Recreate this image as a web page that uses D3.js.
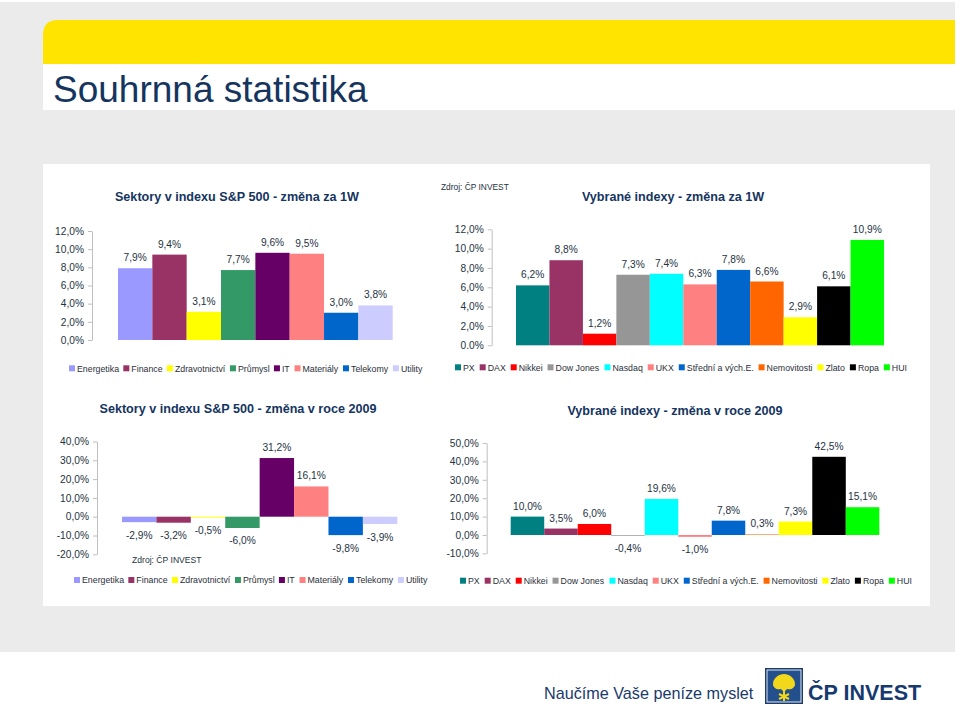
<!DOCTYPE html>
<html>
<head>
<meta charset="utf-8">
<script src="https://cdn.jsdelivr.net/npm/d3@7"></script>
<style>
  html, body { margin: 0; padding: 0; background: #ffffff; }
  svg { display: block; }
  text { font-family: "Liberation Sans", Arial, sans-serif; }
</style>
</head>
<body>
<svg id="page" width="960" height="710"></svg>
<script>
// ---------------- DATA ----------------
const sectors = ["Energetika", "Finance", "Zdravotnictví", "Průmysl", "IT", "Materiály", "Telekomy", "Utility"];
const sectorColors = ["#9999ff", "#993366", "#ffff00", "#339966", "#660066", "#ff8080", "#0066cc", "#ccccff"];
const sectors1W = [7.9, 9.4, 3.1, 7.7, 9.6, 9.5, 3.0, 3.8];
const sectors2009 = [-2.9, -3.2, -0.5, -6.0, 31.2, 16.1, -9.8, -3.9];

const indices = ["PX", "DAX", "Nikkei", "Dow Jones", "Nasdaq", "UKX", "Střední a vých.E.", "Nemovitosti", "Zlato", "Ropa", "HUI"];
const indexColors = ["#008080", "#993366", "#ff0000", "#969696", "#00ffff", "#ff8080", "#0066cc", "#ff6600", "#ffff00", "#000000", "#00ff00"];
const indices1W = [6.2, 8.8, 1.2, 7.3, 7.4, 6.3, 7.8, 6.6, 2.9, 6.1, 10.9];
const indices2009 = [10.0, 3.5, 6.0, -0.4, 19.6, -1.0, 7.8, 0.3, 7.3, 42.5, 15.1];

const ticks1W = [0, 2, 4, 6, 8, 10, 12];
const tickLabelsSectors1W = ["0,0%", "2,0%", "4,0%", "6,0%", "8,0%", "10,0%", "12,0%"];
const tickLabelsIndices1W = ["0.0%", "2,0%", "4,0%", "6,0%", "8,0%", "10,0%", "12,0%"];
const ticksSectors2009 = [-20, -10, 0, 10, 20, 30, 40];
const tickLabelsSectors2009 = ["-20,0%", "-10,0%", "0,0%", "10,0%", "20,0%", "30,0%", "40,0%"];
const ticksIndices2009 = [-10, 0, 10, 20, 30, 40, 50];
const tickLabelsIndices2009 = ["-10,0%", "0,0%", "10,0%", "20,0%", "30,0%", "40,0%", "50,0%"];

const pageTitle = "Souhrnná statistika";
const titles = [
  "Sektory v indexu S&P 500 - změna za 1W",
  "Vybrané indexy - změna za 1W",
  "Sektory v indexu S&P 500 - změna v roce 2009",
  "Vybrané indexy - změna v roce 2009"
];
const sourceNote = "Zdroj: ČP INVEST";
const slogan = "Naučíme Vaše peníze myslet";
const brand = "ČP INVEST";

// ---------------- PAGE FRAME ----------------
const svg = d3.select("#page");
const NAVY = "#15355f";
const TXT = "#25323f";

svg.append("rect").attr("x", 0).attr("y", 2).attr("width", 955).attr("height", 650).attr("fill", "#ebebeb");
// yellow band with rounded top-left corner
svg.append("path")
  .attr("d", "M43,64 L43,35 Q43,20 58,20 L955,20 L955,64 Z")
  .attr("fill", "#ffe400");
svg.append("rect").attr("x", 43).attr("y", 64).attr("width", 912).attr("height", 46).attr("fill", "#ffffff");
svg.append("text").attr("x", 53).attr("y", 102)
  .attr("font-size", 37).attr("fill", NAVY).text(pageTitle);
svg.append("rect").attr("x", 43).attr("y", 164).attr("width", 887).attr("height", 442).attr("fill", "#ffffff");

// ---------------- CHART FUNCTION ----------------
function barChart(cfg) {
  const g = svg.append("g");
  const y = d3.scaleLinear().domain(cfg.domain).range(cfg.yRange);
  const x = d3.scaleBand().domain(cfg.names).range(cfg.barRange).padding(0);

  // title
  g.append("text").attr("x", cfg.titleX).attr("y", cfg.titleY)
    .attr("text-anchor", "middle").attr("font-size", 12.6).attr("font-weight", "bold")
    .attr("fill", NAVY).text(cfg.title);

  // axis
  const axis = d3.axisLeft(y).tickValues(cfg.ticks)
    .tickFormat((d, i) => cfg.tickLabels[i]).tickSize(4).tickSizeOuter(0).tickPadding(4);
  const ag = g.append("g").attr("transform", `translate(${cfg.axisX},0)`).call(axis);
  ag.select(".domain").attr("stroke", "#bfbfbf");
  ag.selectAll(".tick line").attr("stroke", "#bfbfbf");
  ag.selectAll(".tick text").attr("font-size", 10.2).attr("fill", TXT)
    .attr("font-family", "Liberation Sans, Arial, sans-serif");

  // bars
  g.selectAll("rect.bar").data(cfg.values).enter().append("rect")
    .attr("x", (d, i) => x(cfg.names[i]))
    .attr("width", x.bandwidth())
    .attr("y", d => y(Math.max(0, d)))
    .attr("height", d => Math.abs(y(d) - y(0)))
    .attr("fill", (d, i) => cfg.colors[i]);

  // labels
  g.selectAll("text.lbl").data(cfg.values).enter().append("text")
    .attr("x", (d, i) => x(cfg.names[i]) + x.bandwidth() / 2)
    .attr("y", d => d >= 0 ? y(d) - 7 : y(d) + 16.5)
    .attr("text-anchor", "middle").attr("font-size", 10.2).attr("fill", TXT)
    .text(d => d.toFixed(1).replace(".", ",") + "%");

  // legend
  const lg = g.append("g");
  const items = lg.selectAll("g").data(cfg.names).enter().append("g");
  items.append("rect").attr("width", 6).attr("height", 6).attr("y", -3)
    .attr("fill", (d, i) => cfg.colors[i]);
  items.append("text").attr("x", 8).attr("y", 3.2).attr("font-size", 8.8).attr("fill", "#2b2f3a")
    .text(d => d);
  const widths = [];
  items.each(function () { widths.push(this.getBBox().width); });
  const total = d3.sum(widths);
  const gap = (cfg.legendRange[1] - cfg.legendRange[0] - total) / (cfg.names.length - 1);
  let cx = cfg.legendRange[0];
  items.attr("transform", (d, i) => {
    const t = `translate(${cx},${cfg.legendY})`;
    cx += widths[i] + gap;
    return t;
  });
  return g;
}

barChart({
  title: titles[0], titleX: 237, titleY: 201,
  names: sectors, colors: sectorColors, values: sectors1W,
  domain: [0, 12], yRange: [340, 231], ticks: ticks1W, tickLabels: tickLabelsSectors1W,
  axisX: 92, barRange: [118, 392.7], legendY: 368.3, legendRange: [69, 423]
});
barChart({
  title: titles[1], titleX: 673, titleY: 201,
  names: indices, colors: indexColors, values: indices1W,
  domain: [0, 12], yRange: [345.3, 229.3], ticks: ticks1W, tickLabels: tickLabelsIndices1W,
  axisX: 491.7, barRange: [516, 884], legendY: 367.3, legendRange: [455, 907]
});
barChart({
  title: titles[2], titleX: 238, titleY: 413,
  names: sectors, colors: sectorColors, values: sectors2009,
  domain: [-20, 40], yRange: [554.3, 441.5], ticks: ticksSectors2009, tickLabels: tickLabelsSectors2009,
  axisX: 97, barRange: [122, 397.3], legendY: 580, legendRange: [74, 428]
});
barChart({
  title: titles[3], titleX: 675, titleY: 415,
  names: indices, colors: indexColors, values: indices2009,
  domain: [-10, 50], yRange: [553.4, 443], ticks: ticksIndices2009, tickLabels: tickLabelsIndices2009,
  axisX: 486.7, barRange: [510.7, 879.3], legendY: 580.7, legendRange: [460, 912]
});

// source notes
svg.append("text").attr("x", 441).attr("y", 190).attr("font-size", 8.4).attr("fill", TXT).text(sourceNote);
svg.append("text").attr("x", 132).attr("y", 563).attr("font-size", 8.6).attr("fill", TXT).text(sourceNote);

// ---------------- FOOTER ----------------
svg.append("text").attr("x", 544).attr("y", 699)
  .attr("font-family", "Open Sans, sans-serif").attr("font-size", 16.2).attr("fill", "#1b3a6b")
  .text(slogan);
const logo = svg.append("g").attr("transform", "translate(765,668)");
logo.append("rect").attr("width", 38).attr("height", 36).attr("fill", "#1c3c6e");
logo.append("rect").attr("x", 2).attr("y", 2).attr("width", 34).attr("height", 32)
  .attr("fill", "#23508c").attr("stroke", "#dfe6ef").attr("stroke-width", 1);
logo.append("path")
  .attr("d", "M19,6 C24,6 30,10 30,16 C30,20 26,22 22,21 L19,24 L16,21 C12,22 8,20 8,16 C8,10 14,6 19,6 Z")
  .attr("fill", "#f2d81b");
logo.append("path").attr("d", "M19,21 L19,33 M14,26 L24,31 M14,31 L24,26")
  .attr("stroke", "#f2d81b").attr("stroke-width", 2).attr("fill", "none");
svg.append("text").attr("x", 808).attr("y", 700)
  .attr("font-family", "Open Sans, sans-serif").attr("font-weight", 600).attr("font-size", 21.5)
  .attr("fill", "#163a70").text(brand);
</script>
</body>
</html>
